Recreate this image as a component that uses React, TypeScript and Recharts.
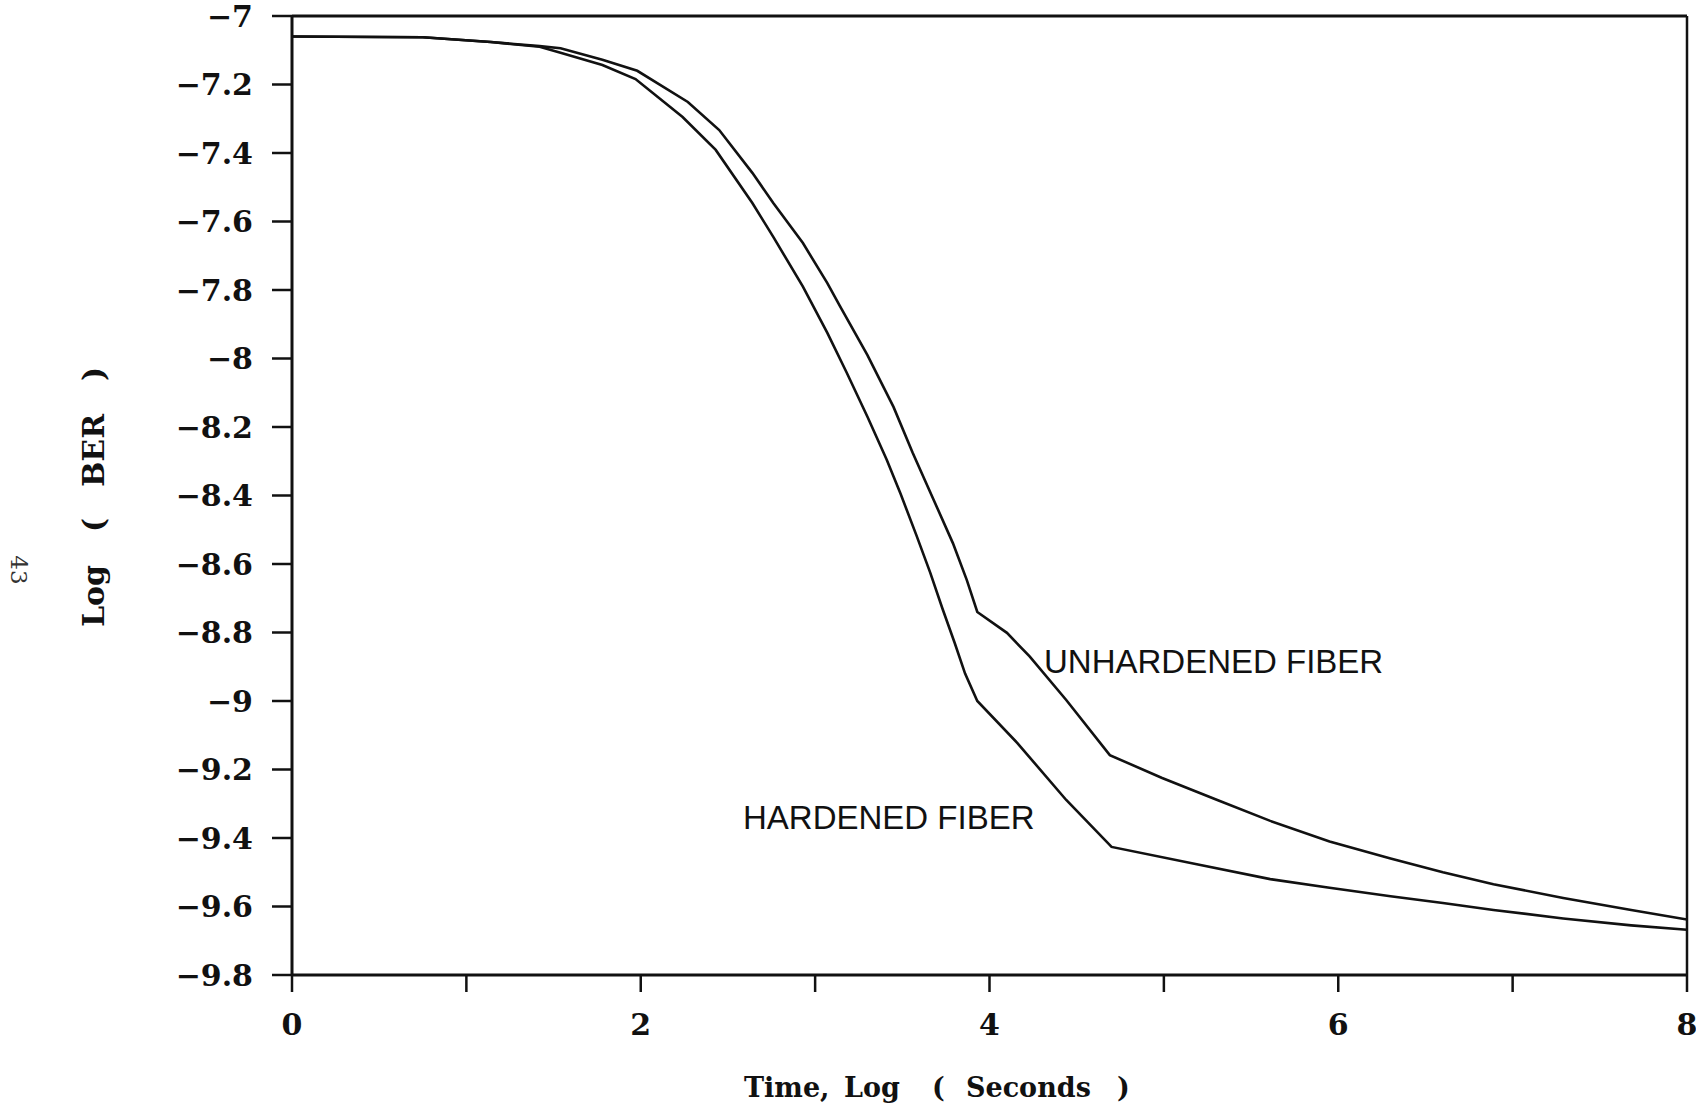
import React from 'react'
import { LineChart, Line, XAxis, YAxis, ReferenceLine } from 'recharts'

// log10(time in seconds)
const UNHARDENED_T = [
  0, 0.75, 1.14, 1.42, 1.54, 1.78, 1.98, 2.27, 2.45, 2.64, 2.76, 2.93, 3.07, 3.14, 3.3, 3.45, 3.56,
  3.68, 3.79, 3.87, 3.93, 4.1, 4.23, 4.44, 4.69, 4.99, 5.31, 5.61, 5.95, 6.3, 6.6, 6.89, 7.29, 7.68, 8,
]
// log10(BER)
const UNHARDENED_BER = [
  -7.06, -7.062, -7.076, -7.088, -7.094, -7.128, -7.16, -7.251, -7.333, -7.458, -7.546, -7.663, -7.78,
  -7.845, -7.99, -8.142, -8.276, -8.413, -8.539, -8.647, -8.74, -8.801, -8.87, -8.997, -9.158, -9.225,
  -9.29, -9.35, -9.41, -9.46, -9.5, -9.535, -9.575, -9.61, -9.638,
]

const HARDENED_T = [
  0, 0.75, 1.14, 1.42, 1.54, 1.78, 1.97, 2.24, 2.43, 2.64, 2.76, 2.93, 3.07, 3.18, 3.3, 3.41, 3.49,
  3.58, 3.66, 3.73, 3.8, 3.86, 3.93, 4.16, 4.44, 4.7, 5.21, 5.61, 5.95, 6.3, 6.6, 6.89, 7.29, 7.68, 8,
]
const HARDENED_BER = [
  -7.06, -7.062, -7.076, -7.09, -7.107, -7.143, -7.184, -7.295, -7.391, -7.546, -7.645, -7.79, -7.925,
  -8.04, -8.17, -8.295, -8.395, -8.515, -8.625, -8.73, -8.83, -8.92, -9.0, -9.123, -9.289, -9.426,
  -9.479, -9.52, -9.545, -9.57, -9.59, -9.61, -9.635, -9.655, -9.668,
]

const X_TICKS = [0, 1, 2, 3, 4, 5, 6, 7, 8]
const Y_TICKS = [-9.8, -9.6, -9.4, -9.2, -9, -8.8, -8.6, -8.4, -8.2, -8, -7.8, -7.6, -7.4, -7.2, -7]

const unhardened = UNHARDENED_T.map((t, i) => ({ t, ber: UNHARDENED_BER[i] }))
const hardened = HARDENED_T.map((t, i) => ({ t, ber: HARDENED_BER[i] }))

const INK = '#111'
const SERIF = '"DejaVu Serif", serif'
const tickFont = {
  fill: INK,
  fontFamily: SERIF,
  fontWeight: 700,
  fontSize: 30,
}

const fmtY = (v: number) => '\u2212' + (Number.isInteger(v) ? String(Math.abs(v)) : Math.abs(v).toFixed(1))
const fmtX = (v: number) => (v % 2 === 0 ? String(v) : '')

export default function App() {
  return (
    <div style={{ position: 'absolute', left: 0, top: 0, width: 1696, height: 1108, background: '#fff' }}>
      <LineChart
        width={1696}
        height={1108}
        margin={{ top: 16, right: 9, bottom: 73, left: 192 }}
      >
        <XAxis
          type="number"
          dataKey="t"
          domain={[0, 8]}
          ticks={X_TICKS}
          tickFormatter={fmtX}
          interval={0}
          height={60}
          tickSize={17}
          tickMargin={22}
          axisLine={{ stroke: INK, strokeWidth: 3 }}
          tickLine={{ stroke: INK, strokeWidth: 2.5 }}
          tick={tickFont}
          allowDataOverflow
        />
        <YAxis
          type="number"
          dataKey="ber"
          domain={[-9.8, -7]}
          ticks={Y_TICKS}
          tickFormatter={fmtY}
          interval={0}
          width={100}
          tickSize={20}
          tickMargin={19}
          axisLine={{ stroke: INK, strokeWidth: 3 }}
          tickLine={{ stroke: INK, strokeWidth: 2.5 }}
          tick={tickFont}
          allowDataOverflow
        />
        <ReferenceLine y={-7} stroke={INK} strokeWidth={3} />
        <ReferenceLine x={8} stroke={INK} strokeWidth={2.5} />
        <Line
          data={unhardened}
          dataKey="ber"
          type="linear"
          stroke={INK}
          strokeWidth={2.6}
          dot={false}
          isAnimationActive={false}
        />
        <Line
          data={hardened}
          dataKey="ber"
          type="linear"
          stroke={INK}
          strokeWidth={2.6}
          dot={false}
          isAnimationActive={false}
        />
      </LineChart>
      <svg
        width={1696}
        height={1108}
        style={{ position: 'absolute', left: 0, top: 0, pointerEvents: 'none' }}
      >
        <g fill={INK} fontFamily='"Liberation Sans", Arial, sans-serif' fontSize={33}>
          <text x={1044} y={673}>UNHARDENED FIBER</text>
          <text x={743} y={829}>HARDENED FIBER</text>
        </g>
        <g fill={INK} fontFamily={SERIF} fontWeight={700}>
          {/* axis titles, words set at the typed spacing */}
          <text y={1097} fontSize={27}>
            <tspan x={744}>Time,</tspan>
            <tspan x={844}>Log</tspan>
            <tspan x={932}>(</tspan>
            <tspan x={966}>Seconds</tspan>
            <tspan x={1117}>)</tspan>
          </text>
          <text y={0} fontSize={30} transform="translate(104 627) rotate(-90)">
            <tspan x={0}>Log</tspan>
            <tspan x={95}>(</tspan>
            <tspan x={140}>BER</tspan>
            <tspan x={246}>)</tspan>
          </text>
        </g>
        <text
          x={19}
          y={570}
          textAnchor="middle"
          dominantBaseline="central"
          fill="#333"
          fontFamily={SERIF}
          fontSize={23}
          transform="rotate(90 19 570)"
        >
          43
        </text>
      </svg>
    </div>
  )
}
